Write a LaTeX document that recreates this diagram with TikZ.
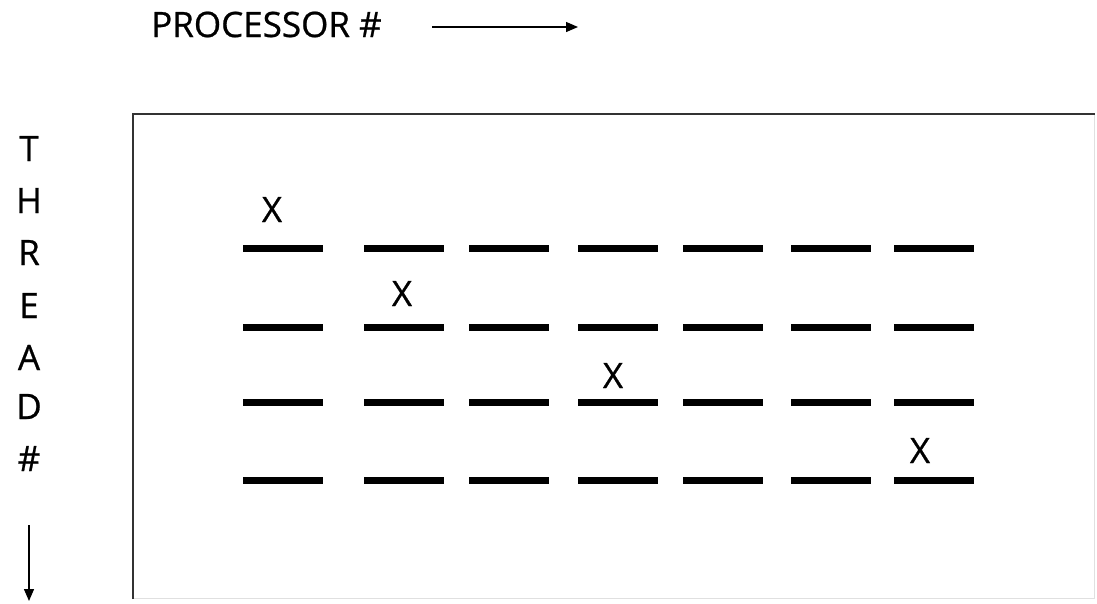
\documentclass[tikz,border=0pt]{standalone}
\usepackage{fontspec}
\setmainfont[FakeBold=0.7]{Open Sans}
\usetikzlibrary{arrows.meta}
\begin{document}
\begin{tikzpicture}[x=1pt,y=-1pt,
  lbl/.style={font=\fontsize{35}{40}\selectfont, inner sep=0pt, anchor=base, text=black},
  bar/.style={fill=black, draw=none, minimum width=80pt, minimum height=7pt, inner sep=0pt},
  axis/.style={line width=1.3pt, -{Triangle[length=12pt,width=10pt]}}
]
\useasboundingbox (0,0) rectangle (1097,603);
% frame
\draw[line width=1pt, black!12] (1094,114) -- (1094,598) -- (133,598);
\draw[line width=2pt, black!80] (133,599) -- (133,114) -- (1095,114);
% axis labels
\node[lbl, anchor=base west] (proc) at (151,37) {PROCESSOR \#};
\coordinate (pa) at (432,27);
\coordinate (pb) at (578,27);
\draw[axis] (pa) -- (pb);
\foreach \ch/\yy [count=\i] in {T/148,H/200,R/252,E/305,A/357,D/406,\#/458}{
  \node[lbl] (t\i) at (29,\yy+13) {\ch};
}
\coordinate (ta) at (29,525);
\coordinate (tb) at (29,601);
\draw[axis] (ta) -- (tb);
% bars
\foreach \yy [count=\r] in {248,327,402,480}{
  \foreach \xx [count=\c] in {283,403.5,509,618,723,830.5,933.5}{
    \node[bar] (b\r-\c) at (\xx,\yy) {};
  }
}
% marks
\node[lbl] (x1) at (272,222) {X};
\node[lbl] (x2) at (402,306) {X};
\node[lbl] (x3) at (613,388) {X};
\node[lbl] (x4) at (920,463) {X};
\end{tikzpicture}
\end{document}
